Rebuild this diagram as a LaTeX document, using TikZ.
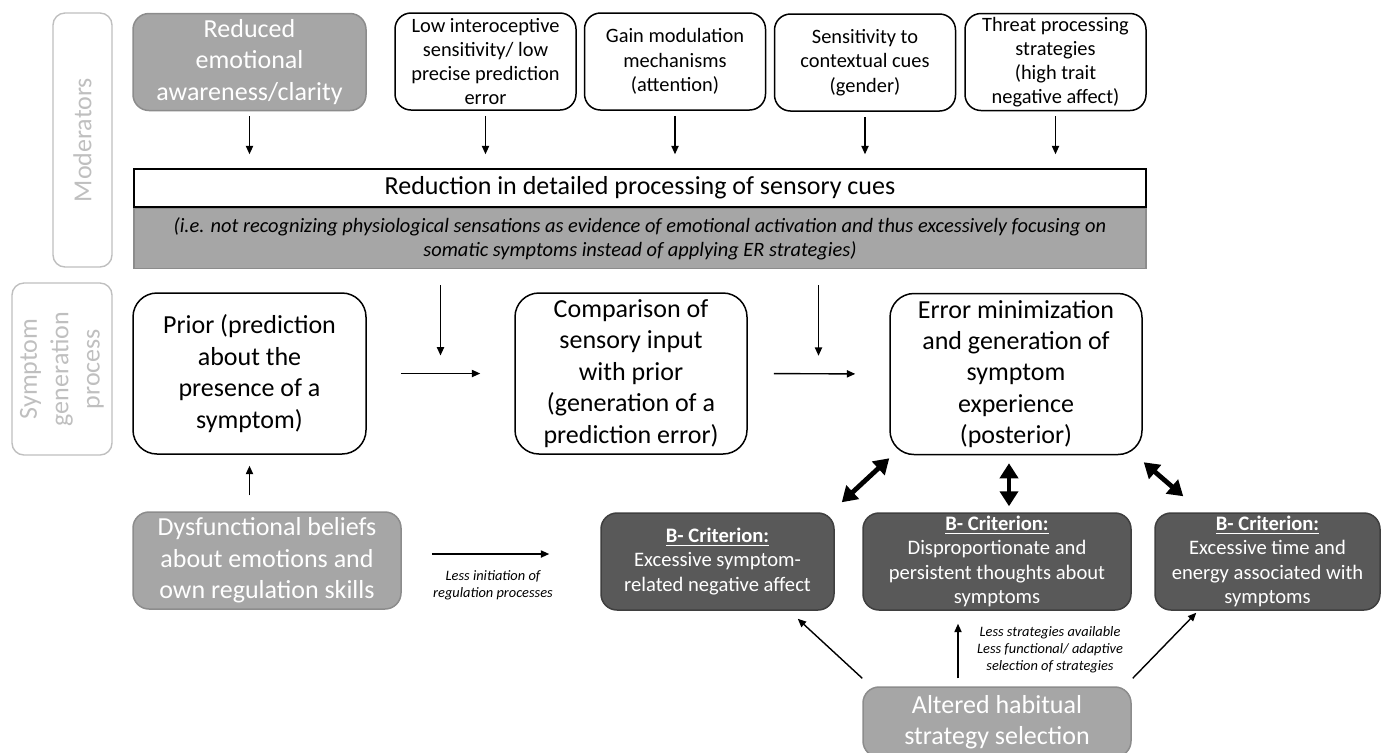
\documentclass[tikz,border=0pt]{standalone}
\usepackage{fontspec}
\setmainfont{Carlito}
\usepackage{tikz}
\usetikzlibrary{arrows.meta,calc,positioning}
\definecolor{SideGray}{HTML}{BFBFBF}
\definecolor{MidGray}{HTML}{A6A6A6}
\definecolor{MidEdge}{HTML}{8C8C8C}
\definecolor{DarkGray}{HTML}{595959}
\definecolor{DarkEdge}{HTML}{3F3F3F}
\newcommand{\crit}{\underline{\textbf{B- Criterion:}}}

\begin{document}
\begin{tikzpicture}[x=0.5pt,y=-0.5pt,
  bigfont/.style={font=\fontsize{13}{15.7}\selectfont},
  smallfont/.style={font=\fontsize{10.2}{12.1}\selectfont},
  sidebox/.style={draw=SideGray,line width=0.7pt,rounded corners=6pt,text=SideGray,
    bigfont,align=center,inner sep=0pt,rotate=90},
  modbox/.style={draw,line width=0.75pt,rounded corners=8pt,align=center,inner sep=0pt,
    minimum width=90.5pt,minimum height=48.5pt,smallfont},
  graybox/.style={draw=MidEdge,fill=MidGray,text=white,line width=0.75pt,rounded corners=8pt,
    align=center,inner sep=0pt,bigfont},
  procbox/.style={draw,line width=0.75pt,rounded corners=12pt,align=center,inner sep=0pt,
    minimum height=80.5pt,bigfont},
  critbox/.style={draw=DarkEdge,fill=DarkGray,text=white,line width=0.75pt,rounded corners=8pt,
    align=center,inner sep=0pt,minimum height=48.5pt,font=\fontsize{10.3}{12.2}\selectfont},
  note/.style={align=center,font=\fontsize{7.2}{8.6}\selectfont\itshape},
  arr/.style={-{Triangle[length=4.2pt,width=3.6pt]},line width=0.7pt},
  dbl/.style={{Triangle[length=7.5pt,width=9pt]}-{Triangle[length=7.5pt,width=9pt]},line width=2.4pt}]
  \useasboundingbox (0,0) rectangle (1381,752);
  \clip (0,0) rectangle (1381,752);

  % side labels
  \node[sidebox,minimum width=127pt,minimum height=29.5pt] (lmod) at (82.5,140) {Moderators};
  \node[sidebox,minimum width=86pt,minimum height=50pt] (lsym) at (62,369)
    {Symptom\\generation\\process};

  % moderators
  \node[graybox,minimum width=116.5pt,minimum height=48.5pt] (m1) at (249.5,62)
    {Reduced\\emotional\\awareness/clarity};
  \node[modbox] (m2) at (485.5,61.5) {Low interoceptive\\sensitivity/ low\\precise prediction\\error};
  \node[modbox] (m3) at (675,61.5) {Gain modulation\\mechanisms\\(attention)};
  \node[modbox] (m4) at (865,62.5) {Sensitivity to\\contextual cues\\(gender)};
  \node[modbox] (m5) at (1055.5,62) {Threat processing\\strategies\\(high trait\\negative affect)};

  \node[draw,line width=0.75pt,minimum width=506pt,minimum height=19pt,inner sep=0pt,
    font=\fontsize{13}{15}\selectfont] (red) at (640,188)
    {Reduction in detailed processing of sensory cues};
  \node[draw=MidEdge,fill=MidGray,line width=0.75pt,minimum width=506pt,minimum height=30pt,
    inner sep=0pt,align=center,font=\fontsize{10.2}{12}\selectfont\itshape,anchor=north]
    (redsub) at (red.south)
    {(i.e. not recognizing physiological sensations as evidence of emotional activation and thus excessively focusing on\\
     somatic symptoms instead of applying ER strategies)};

  \foreach \m in {m1,m2,m3,m4,m5}
    \draw[arr,shorten <=2.5pt,shorten >=7pt] (\m.south) -- (\m.south |- red.north);

  % symptom generation
  \node[procbox,minimum width=116.5pt] (prior) at (249.5,373.5)
    {Prior (prediction\\about the\\presence of a\\symptom)};
  \node[procbox,minimum width=116pt] (comp) at (631,373.5)
    {Comparison of\\sensory input\\with prior\\(generation of a\\prediction error)};
  \node[procbox,minimum width=126pt] (err) at (1016,374)
    {Error minimization\\and generation of\\symptom\\experience\\(posterior)};

  \coordinate (j1) at ($(prior.east)!0.5!(comp.west)$);
  \coordinate (j2) at ($(comp.east)!0.5!(err.west)$);
  \draw[arr,shorten <=17pt,shorten >=17pt] (prior.east) -- (comp.west);
  \draw[arr,shorten <=13pt,shorten >=17pt] (comp.east) -- (err.west);
  \draw[arr,shorten <=8pt,shorten >=9pt] (j1 |- redsub.south) -- (j1);
  \draw[arr,shorten <=8pt,shorten >=9pt] (j2 |- redsub.south) -- (j2);

  % regulation
  \node[graybox,minimum width=134pt,minimum height=48.5pt] (dys) at (267,560.5)
    {Dysfunctional beliefs\\about emotions and\\own regulation skills};
  \node[critbox,minimum width=116.5pt] (b1) at (717.5,561.5)
    {\crit\\Excessive symptom-\\related negative affect};
  \node[critbox,minimum width=134pt] (b2) at (997,561.5)
    {\crit\\Disproportionate and\\persistent thoughts about\\symptoms};
  \node[critbox,minimum width=112.5pt] (b3) at (1267.5,561.5)
    {\crit\\Excessive time and\\energy associated with\\symptoms};
  \node[graybox,minimum width=134pt,minimum height=35pt] (alt) at (997,722)
    {Altered habitual\\strategy selection};

  \draw[arr,shorten <=8pt,shorten >=5.5pt] (prior.south |- dys.north) -- (prior.south);
  \draw[arr,shorten <=15pt,shorten >=25.5pt] ([shift={(0,-6.5)}]dys.east) -- ([shift={(0,-7.5)}]b1.west);
  \node[note] (lbl1) at (493,585) {Less initiation of\\regulation processes};

  \draw[dbl] ([shift={(0,3)}]err.south west) -- ([shift={(7,-10)}]b1.north east);
  \draw[dbl] ([shift={(-7,8)}]err.south) -- ([shift={(12,-6)}]b2.north);
  \draw[dbl] ([shift={(1,7)}]err.south east) -- ([shift={(29,-16)}]b3.north west);

  \draw[arr] ([shift={(0,-8)}]alt.north west) -- ([shift={(-37,8)}]b1.south east);
  \draw[arr] ([shift={(-39,-8)}]alt.north) -- ([shift={(-39,13)}]b2.south);
  \draw[arr] ([shift={(1,-8)}]alt.north east) -- ([shift={(42,2)}]b3.south west);
  \node[note] (lbl2) at (1050,650)
    {Less strategies available\\Less functional/ adaptive\\selection of strategies};
\end{tikzpicture}
\end{document}
